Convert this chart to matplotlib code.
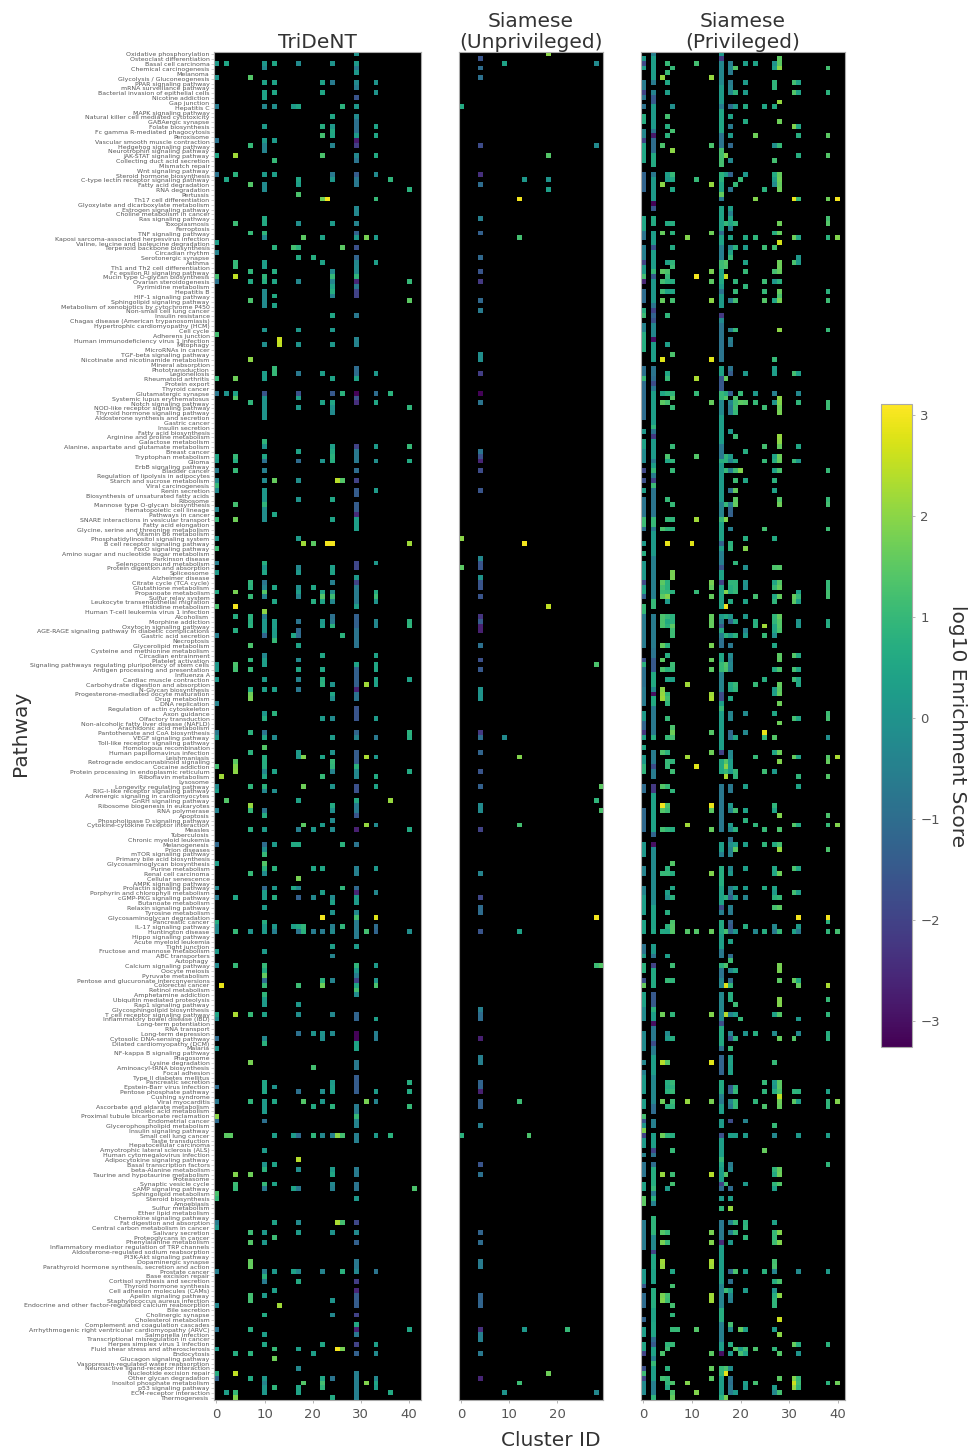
import numpy as np
import matplotlib
matplotlib.use('Agg')
import matplotlib.pyplot as plt

pathways = [
    'Oxidative phosphorylation', 'Osteoclast differentiation', 'Basal cell carcinoma', 'Chemical carcinogenesis',
    'Melanoma', 'Glycolysis / Gluconeogenesis', 'PPAR signaling pathway', 'mRNA surveillance pathway',
    'Bacterial invasion of epithelial cells', 'Nicotine addiction', 'Gap junction', 'Hepatitis C',
    'MAPK signaling pathway', 'Natural killer cell mediated cytotoxicity', 'GABAergic synapse', 'Folate biosynthesis',
    'Fc gamma R-mediated phagocytosis', 'Peroxisome', 'Vascular smooth muscle contraction', 'Hedgehog signaling pathway',
    'Neurotrophin signaling pathway', 'JAK-STAT signaling pathway', 'Collecting duct acid secretion', 'Mismatch repair',
    'Wnt signaling pathway', 'Steroid hormone biosynthesis', 'C-type lectin receptor signaling pathway', 'Fatty acid degradation',
    'RNA degradation', 'Pertussis', 'Th17 cell differentiation', 'Glyoxylate and dicarboxylate metabolism',
    'Estrogen signaling pathway', 'Choline metabolism in cancer', 'Ras signaling pathway', 'Toxoplasmosis',
    'Ferroptosis', 'TNF signaling pathway', 'Kaposi sarcoma-associated herpesvirus infection', 'Valine, leucine and isoleucine degradation',
    'Terpenoid backbone biosynthesis', 'Circadian rhythm', 'Serotonergic synapse', 'Asthma',
    'Th1 and Th2 cell differentiation', 'Fc epsilon RI signaling pathway', 'Mucin type O-glycan biosynthesis', 'Ovarian steroidogenesis',
    'Pyrimidine metabolism', 'Hepatitis B', 'HIF-1 signaling pathway', 'Sphingolipid signaling pathway',
    'Metabolism of xenobiotics by cytochrome P450', 'Non-small cell lung cancer', 'Insulin resistance', 'Chagas disease (American trypanosomiasis)',
    'Hypertrophic cardiomyopathy (HCM)', 'Cell cycle', 'Adherens junction', 'Human immunodeficiency virus 1 infection',
    'Mitophagy', 'MicroRNAs in cancer', 'TGF-beta signaling pathway', 'Nicotinate and nicotinamide metabolism',
    'Mineral absorption', 'Phototransduction', 'Legionellosis', 'Rheumatoid arthritis',
    'Protein export', 'Thyroid cancer', 'Glutamatergic synapse', 'Systemic lupus erythematosus',
    'Notch signaling pathway', 'NOD-like receptor signaling pathway', 'Thyroid hormone signaling pathway', 'Aldosterone synthesis and secretion',
    'Gastric cancer', 'Insulin secretion', 'Fatty acid biosynthesis', 'Arginine and proline metabolism',
    'Galactose metabolism', 'Alanine, aspartate and glutamate metabolism', 'Breast cancer', 'Tryptophan metabolism',
    'Glioma', 'ErbB signaling pathway', 'Bladder cancer', 'Regulation of lipolysis in adipocytes',
    'Starch and sucrose metabolism', 'Viral carcinogenesis', 'Renin secretion', 'Biosynthesis of unsaturated fatty acids',
    'Ribosome', 'Mannose type O-glycan biosynthesis', 'Hematopoietic cell lineage', 'Pathways in cancer',
    'SNARE interactions in vesicular transport', 'Fatty acid elongation', 'Glycine, serine and threonine metabolism', 'Vitamin B6 metabolism',
    'Phosphatidylinositol signaling system', 'B cell receptor signaling pathway', 'FoxO signaling pathway', 'Amino sugar and nucleotide sugar metabolism',
    'Parkinson disease', 'Selenocompound metabolism', 'Protein digestion and absorption', 'Spliceosome',
    'Alzheimer disease', 'Citrate cycle (TCA cycle)', 'Glutathione metabolism', 'Propanoate metabolism',
    'Sulfur relay system', 'Leukocyte transendothelial migration', 'Histidine metabolism', 'Human T-cell leukemia virus 1 infection',
    'Alcoholism', 'Morphine addiction', 'Oxytocin signaling pathway', 'AGE-RAGE signaling pathway in diabetic complications',
    'Gastric acid secretion', 'Necroptosis', 'Glycerolipid metabolism', 'Cysteine and methionine metabolism',
    'Circadian entrainment', 'Platelet activation', 'Signaling pathways regulating pluripotency of stem cells', 'Antigen processing and presentation',
    'Influenza A', 'Cardiac muscle contraction', 'Carbohydrate digestion and absorption', 'N-Glycan biosynthesis',
    'Progesterone-mediated oocyte maturation', 'Drug metabolism', 'DNA replication', 'Regulation of actin cytoskeleton',
    'Axon guidance', 'Olfactory transduction', 'Non-alcoholic fatty liver disease (NAFLD)', 'Arachidonic acid metabolism',
    'Pantothenate and CoA biosynthesis', 'VEGF signaling pathway', 'Toll-like receptor signaling pathway', 'Homologous recombination',
    'Human papillomavirus infection', 'Leishmaniasis', 'Retrograde endocannabinoid signaling', 'Cocaine addiction',
    'Protein processing in endoplasmic reticulum', 'Riboflavin metabolism', 'Lysosome', 'Longevity regulating pathway',
    'RIG-I-like receptor signaling pathway', 'Adrenergic signaling in cardiomyocytes', 'GnRH signaling pathway', 'Ribosome biogenesis in eukaryotes',
    'RNA polymerase', 'Apoptosis', 'Phospholipase D signaling pathway', 'Cytokine-cytokine receptor interaction',
    'Measles', 'Tuberculosis', 'Chronic myeloid leukemia', 'Melanogenesis',
    'Prion diseases', 'mTOR signaling pathway', 'Primary bile acid biosynthesis', 'Glycosaminoglycan biosynthesis',
    'Purine metabolism', 'Renal cell carcinoma', 'Cellular senescence', 'AMPK signaling pathway',
    'Prolactin signaling pathway', 'Porphyrin and chlorophyll metabolism', 'cGMP-PKG signaling pathway', 'Butanoate metabolism',
    'Relaxin signaling pathway', 'Tyrosine metabolism', 'Glycosaminoglycan degradation', 'Pancreatic cancer',
    'IL-17 signaling pathway', 'Huntington disease', 'Hippo signaling pathway', 'Acute myeloid leukemia',
    'Tight junction', 'Fructose and mannose metabolism', 'ABC transporters', 'Autophagy',
    'Calcium signaling pathway', 'Oocyte meiosis', 'Pyruvate metabolism', 'Pentose and glucuronate interconversions',
    'Colorectal cancer', 'Retinol metabolism', 'Amphetamine addiction', 'Ubiquitin mediated proteolysis',
    'Rap1 signaling pathway', 'Glycosphingolipid biosynthesis', 'T cell receptor signaling pathway', 'Inflammatory bowel disease (IBD)',
    'Long-term potentiation', 'RNA transport', 'Long-term depression', 'Cytosolic DNA-sensing pathway',
    'Dilated cardiomyopathy (DCM)', 'Malaria', 'NF-kappa B signaling pathway', 'Phagosome',
    'Lysine degradation', 'Aminoacyl-tRNA biosynthesis', 'Focal adhesion', 'Type II diabetes mellitus',
    'Pancreatic secretion', 'Epstein-Barr virus infection', 'Pentose phosphate pathway', 'Cushing syndrome',
    'Viral myocarditis', 'Ascorbate and aldarate metabolism', 'Linoleic acid metabolism', 'Proximal tubule bicarbonate reclamation',
    'Endometrial cancer', 'Glycerophospholipid metabolism', 'Insulin signaling pathway', 'Small cell lung cancer',
    'Taste transduction', 'Hepatocellular carcinoma', 'Amyotrophic lateral sclerosis (ALS)', 'Human cytomegalovirus infection',
    'Adipocytokine signaling pathway', 'Basal transcription factors', 'beta-Alanine metabolism', 'Taurine and hypotaurine metabolism',
    'Proteasome', 'Synaptic vesicle cycle', 'cAMP signaling pathway', 'Sphingolipid metabolism',
    'Steroid biosynthesis', 'Amoebiasis', 'Sulfur metabolism', 'Ether lipid metabolism',
    'Chemokine signaling pathway', 'Fat digestion and absorption', 'Central carbon metabolism in cancer', 'Salivary secretion',
    'Proteoglycans in cancer', 'Phenylalanine metabolism', 'Inflammatory mediator regulation of TRP channels', 'Aldosterone-regulated sodium reabsorption',
    'PI3K-Akt signaling pathway', 'Dopaminergic synapse', 'Parathyroid hormone synthesis, secretion and action', 'Prostate cancer',
    'Base excision repair', 'Cortisol synthesis and secretion', 'Thyroid hormone synthesis', 'Cell adhesion molecules (CAMs)',
    'Apelin signaling pathway', 'Staphylococcus aureus infection', 'Endocrine and other factor-regulated calcium reabsorption', 'Bile secretion',
    'Cholinergic synapse', 'Cholesterol metabolism', 'Complement and coagulation cascades', 'Arrhythmogenic right ventricular cardiomyopathy (ARVC)',
    'Salmonella infection', 'Transcriptional misregulation in cancer', 'Herpes simplex virus 1 infection', 'Fluid shear stress and atherosclerosis',
    'Endocytosis', 'Glucagon signaling pathway', 'Vasopressin-regulated water reabsorption', 'Neuroactive ligand-receptor interaction',
    'Nucleotide excision repair', 'Other glycan degradation', 'Inositol phosphate metabolism', 'p53 signaling pathway',
    'ECM-receptor interaction', 'Thermogenesis',
]

# scores, one dict per row: {row: {cluster: score}}
# TriDeNT, clusters 0-17 except cluster 10
tri_left = {
    2: {0: .2, 2: .5, 12: .5, 17: -.2}, 5: {0: 0, 7: 1.4}, 6: {12: .4}, 8: {12: .5},
    11: {0: -.6, 12: -.1, 16: .2, 17: .5}, 18: {0: -.8, 12: .2}, 19: {7: 1}, 21: {0: .5, 4: 2.2}, 22: {12: 1},
    25: {0: -.8, 4: .8, 12: .3}, 26: {2: .5, 17: .5}, 27: {7: 1.4, 17: .3}, 29: {17: 1.3},
    35: {4: 1.1, 17: -.1}, 37: {7: 1}, 39: {0: .3}, 40: {12: .8, 16: 1.2, 17: .8}, 41: {0: -.4}, 42: {17: .6},
    43: {4: 1},
    44: {4: 1}, 45: {7: .9, 12: .7}, 46: {0: 1.2, 4: 2.5}, 47: {0: -.8, 7: .6, 12: .5, 17: -.3},
    50: {12: .6}, 51: {7: 1.3}, 52: {12: .4}, 57: {17: .1}, 58: {0: 1.2}, 59: {13: 2.6}, 60: {13: 2.5, 17: 0},
    63: {7: 2}, 65: {12: 1}, 66: {12: 1, 17: -.7}, 67: {0: 1, 4: 1.7},
    70: {0: -.7, 2: 0, 4: .4, 17: -1.7}, 71: {4: 1.4, 17: .3}, 72: {7: .9}, 73: {17: .1},
    82: {17: .4}, 83: {0: .5, 4: 1}, 84: {0: .2, 4: .7, 17: -1}, 86: {0: -.5, 4: 1},
    88: {0: -.2, 12: 1.6, 17: -.1},
    89: {0: 1}, 90: {0: -.2}, 92: {17: 0}, 93: {4: 1.2}, 94: {0: -.3}, 95: {12: .5},
    96: {0: 1, 4: 1.7}, 100: {0: .1, 17: .2}, 102: {0: 1.1}, 105: {0: -.5}, 106: {17: -.3}, 107: {0: .2, 17: .1},
    109: {7: .9}, 110: {7: .8, 12: .5, 17: -.1}, 111: {0: .6, 4: 1.8, 17: .3}, 112: {7: 1, 17: -.4},
    113: {12: .5}, 114: {0: 1.3, 4: 3}, 116: {4: .7, 7: .8}, 117: {7: .7, 12: .3, 17: -.8}, 118: {7: .8, 12: .3},
    119: {4: .7, 12: .2, 17: -1.1}, 120: {0: -.5, 12: .2, 16: .5, 17: -1}, 121: {12: 1}, 122: {7: 1.3, 17: .4},
    125: {7: .9, 17: -.2}, 126: {0: .1, 4: 1.3}, 127: {0: .2, 4: 1.2, 7: 1, 17: .5}, 129: {0: .1, 17: -.4},
    131: {7: .6, 12: .3, 17: -.7}, 132: {7: 1.7}, 133: {7: 1.8}, 134: {0: -.4},
    136: {12: .8}, 140: {0: -.7, 7: .8}, 141: {0: .2, 12: -.2}, 144: {7: .8, 17: .2}, 145: {17: .1},
    146: {4: 1.5}, 147: {0: 1.2, 4: 1.9}, 148: {4: 2, 12: .4}, 149: {1: 2.2}, 151: {0: -.2, 7: .9},
    152: {0: .3, 12: -.1}, 154: {2: 1.4, 17: .4}, 155: {7: 2.1}, 156: {0: -.4, 7: 1},
    160: {7: .7, 17: -.5}, 163: {0: -1.1, 12: .2, 16: .6, 17: .6}, 167: {0: .3}, 168: {12: .8}, 169: {7: 1},
    170: {17: 1.8}, 172: {0: -.3, 12: .1, 16: .5, 17: -.3}, 174: {0: -.6, 4: .5, 12: .7, 17: -1.3},
    179: {0: .7}, 180: {0: -.2, 12: .1, 16: .3, 17: .6}, 181: {0: -.2, 4: 1, 7: 0, 12: -.5, 17: -.8},
    185: {0: .2}, 188: {0: -.2, 4: 1}, 192: {1: 2.9, 17: 1.1}, 196: {17: .1}, 198: {0: .5, 4: 2.3, 7: 1, 17: -.1},
    199: {0: -.2}, 202: {17: -.9}, 203: {0: -1}, 205: {0: 0}, 208: {7: 1.8}, 213: {0: -1, 12: 0}, 214: {17: -.9},
    216: {0: -.7, 7: .9, 12: .5}, 219: {0: 2}, 220: {0: -1}, 223: {2: 1.5, 3: 1.5, 12: .3, 16: .2, 17: -1},
    228: {17: 2.4}, 229: {12: .4}, 230: {17: -.1}, 231: {4: 1.9, 7: 1.7}, 233: {4: 1.1, 12: .4},
    234: {4: 1, 16: .4, 17: -.7}, 235: {0: 1.3}, 236: {0: 1}, 241: {0: -.6, 12: .4, 17: -.2}, 242: {0: .1},
    243: {7: 1.1, 17: .2}, 244: {12: 1.1}, 245: {7: 1.4}, 249: {7: 1.6}, 250: {7: 1.6},
    251: {0: -.5, 12: .1, 16: .4, 17: -.3}, 253: {17: .6}, 255: {12: .3}, 256: {7: 1.2}, 257: {7: 1.2},
    258: {0: -.3, 13: 2.2}, 263: {0: -.8, 7: .7}, 267: {0: .2, 12: 1, 17: .3}, 268: {4: .7, 7: .8}, 269: {12: 1.7},
    271: {17: -.3}, 272: {0: .7, 4: 2.5}, 273: {0: -1.2, 7: .6}, 275: {12: .9, 17: .5}, 276: {2: .3, 4: 1, 17: .4},
    277: {4: 1.9},
}
tri_col10 = [(2, 2, .1), (3, 3, -.3), (6, 6, .4), (8, 9, .4), (11, 11, -.3), (15, 15, .2), (18, 18, .2),
             (19, 20, -.4), (25, 25, .2), (27, 28, -.2), (34, 35, .6), (37, 37, .9), (38, 38, -.3), (43, 44, .3),
             (46, 46, .9), (47, 47, .7), (49, 52, -.2), (57, 57, 0), (60, 60, -.1), (66, 67, .3), (70, 70, -1.6),
             (71, 75, 0), (80, 80, .9), (81, 81, 0), (83, 83, .5), (84, 84, -.9), (86, 86, -.5), (88, 88, -.2),
             (90, 92, .1), (93, 93, .9), (94, 96, -.1), (105, 105, .7), (106, 106, 0), (107, 107, .5), (109, 109, -.8),
             (110, 110, -.4), (111, 111, 1.4), (112, 112, -.4), (115, 115, 2), (116, 116, -.6), (117, 119, .1),
             (120, 120, -1.2), (124, 124, -.3), (125, 126, .3), (129, 129, .2), (131, 131, .3), (136, 136, .1),
             (137, 137, .7), (140, 140, -.8), (141, 141, .5), (143, 143, 1.4), (145, 147, .7), (148, 148, -.3),
             (149, 149, .5), (151, 151, .8), (152, 152, -.3), (156, 156, -.8), (157, 157, .7), (160, 160, .2),
             (163, 163, -1), (164, 164, -.1), (165, 165, 1), (167, 167, 1.4), (168, 168, .8), (169, 169, -.2),
             (172, 172, -1.1), (173, 174, .3), (176, 176, .2), (179, 179, .7), (180, 181, .2), (185, 185, .2),
             (188, 188, 1), (189, 189, .6), (190, 190, 1.6), (191, 191, -1), (192, 192, 1), (194, 194, .9),
             (195, 196, .2), (198, 198, .4), (203, 203, -.3), (204, 204, .8), (212, 214, .5), (216, 218, .2),
             (220, 220, -.9), (226, 226, .2), (229, 229, 0), (230, 230, .8), (233, 233, 1), (234, 234, -.7),
             (243, 243, .1), (245, 245, .1), (251, 251, -.5), (252, 252, .8), (253, 253, -.6), (256, 256, .2),
             (260, 260, .6), (264, 264, .3), (266, 266, .5), (273, 276, .1), (274, 274, -.4)]
# TriDeNT, clusters 18-41 except cluster 29
tri_right = {
    2: {24: 0}, 6: {22: .4, 24: -.6, 33: 0}, 8: {22: .5, 33: 0}, 11: {26: .8}, 13: {24: .5}, 15: {22: .7, 24: .1, 33: .4},
    16: {24: .6}, 17: {22: 1.2, 24: .5, 33: .5}, 19: {24: -.4}, 21: {22: 1.3, 33: .6}, 25: {24: -.7, 33: -.2},
    26: {24: .1, 36: .9}, 28: {40: .8}, 30: {22: 1.7, 23: 3, 33: 1}, 35: {24: .2}, 38: {18: 1.5, 22: .4, 31: 1.8, 33: .2},
    40: {26: 1.5}, 42: {20: .7}, 43: {22: .4, 33: .3}, 45: {24: -.2}, 46: {24: 1}, 47: {24: -.4, 40: 1}, 48: {24: .4},
    49: {24: .7}, 50: {24: -.4}, 51: {40: 1.5}, 54: {24: .5}, 57: {24: .1}, 60: {24: .1}, 66: {22: .3, 33: .1}, 67: {24: .4},
    70: {24: -1.5, 26: .8, 33: -1, 36: .8}, 72: {22: .4, 24: .5, 33: .5}, 73: {24: 0, 40: .9}, 74: {24: -.2},
    81: {24: .3, 33: .2, 40: 1}, 82: {24: .6}, 83: {24: .8}, 84: {22: 0, 24: .7, 33: -.1, 40: .6},
    88: {25: 2.4, 26: 1.4}, 90: {33: .2}, 92: {24: .5}, 96: {24: .4},
    101: {18: 2.2, 20: 1.5, 23: 3, 24: 3, 40: 2.2}, 105: {33: .1}, 106: {24: .3}, 107: {24: .4}, 109: {24: -.5},
    110: {20: .5}, 111: {22: .5, 24: -.1, 33: .6}, 112: {22: 1.4, 24: 1.1, 33: 1.1}, 113: {20: .7, 22: .4, 24: -.3, 33: 0},
    116: {24: -.9}, 117: {22: .1, 24: -.7, 33: -.3, 40: .8}, 118: {22: .3, 24: .8, 33: -.3, 40: .9}, 120: {26: .8},
    124: {22: .5, 33: .4}, 126: {33: .5}, 127: {22: .5, 33: .5}, 129: {22: .7, 33: .4, 40: .4}, 130: {22: .8, 24: 0, 31: 2.2, 33: .4},
    132: {24: .5}, 133: {24: -.1}, 137: {22: .2, 24: -.2, 33: .2}, 140: {40: .8}, 141: {24: .2, 33: -.7, 40: .7},
    144: {24: 0}, 145: {18: 1.9, 22: .4, 31: 2.3, 33: .1}, 146: {24: 1}, 147: {24: .9}, 148: {24: -.4, 40: .6},
    149: {22: 1, 33: .6}, 151: {18: 1.7, 24: 0, 33: .4}, 154: {36: 2.1}, 155: {24: .6}, 156: {24: -.1}, 158: {24: -.2},
    159: {18: 1.5, 22: .2, 31: 2.1, 33: -.2}, 160: {20: .1, 24: -.2, 40: .6}, 163: {26: .8}, 168: {20: .5, 22: .5, 33: .1},
    172: {26: .9}, 173: {22: .3, 33: -.3}, 174: {20: -.3, 24: -.2}, 175: {24: .4}, 177: {24: 0},
    178: {22: 3, 33: 2.8}, 180: {18: .9, 24: -.5, 26: .9, 33: -1}, 181: {18: .8, 20: -.6, 22: -.6, 24: -.2, 31: 1.2, 33: -1.2, 40: -.1},
    184: {24: .3}, 186: {24: -.4}, 188: {33: .2}, 191: {22: .8, 24: -.4, 33: 0}, 192: {22: 1.7, 33: 1.3},
    198: {24: -.3}, 199: {33: .3}, 202: {20: 0, 22: 0, 24: -.2, 33: -.5}, 203: {22: -.1, 33: -.6}, 209: {20: 1.2},
    212: {24: .2, 40: .7}, 213: {24: .3}, 214: {22: -.1, 24: .3, 33: .2, 40: .6}, 216: {18: 1.4, 22: .1, 31: 1.8, 33: -.4},
    217: {20: .6, 24: .8, 40: 1}, 223: {20: .9, 22: -.3, 24: -.5, 25: 2, 26: 1.2, 33: .2, 36: .8},
    230: {24: .2}, 231: {24: .5}, 233: {24: -.3}, 234: {24: -.5, 41: 1.3}, 241: {25: 2.3, 26: 1.2}, 243: {24: 0},
    251: {22: -.4, 26: .8, 33: -.8}, 257: {24: 0}, 260: {24: -.3}, 263: {40: .5}, 266: {22: .5, 33: .3},
    267: {25: 3, 26: 1.8}, 268: {20: .3, 33: -.2}, 273: {22: .5, 24: -.8, 33: -.3}, 274: {18: 1.4, 22: 1.2, 31: 1.9, 33: .5},
    275: {22: .9, 33: .3}, 276: {36: .6}, 277: {24: .6},
}
tri_col29 = [(0, 0, 0), (2, 2, .2), (3, 3, -.7), (4, 4, .1), (6, 6, -.2), (7, 7, -.6), (9, 9, -1.6), (11, 11, .1),
             (13, 13, -.2), (14, 16, -.9), (17, 17, .2), (18, 18, -2.8), (19, 19, -2.1), (21, 21, -.3), (22, 22, -.8),
             (25, 25, -1.4), (26, 27, -.7), (32, 33, -.3), (35, 35, -.4), (37, 37, -1.3), (38, 38, .1), (40, 40, -1.7),
             (42, 42, -1.2), (43, 43, -.3), (44, 45, -.2), (46, 46, .9), (47, 47, -2.6), (48, 48, -.7), (49, 50, -2),
             (54, 54, -.7), (59, 60, -.4), (65, 66, -1), (67, 67, .4), (70, 70, -3.2), (71, 71, -1.6), (72, 72, -2.4),
             (81, 81, -2), (82, 84, -.7), (86, 86, -1), (88, 88, -2), (90, 91, -1.4), (93, 94, -1.4), (95, 95, -2.5),
             (96, 98, .3), (105, 106, -1.9), (108, 108, .1), (109, 109, -2), (110, 113, -.6), (114, 114, .3),
             (116, 118, -1.3), (119, 122, -.8), (126, 126, .4), (127, 130, -1.3), (131, 131, -2.7), (132, 133, -.8),
             (135, 137, -1.6), (140, 140, -1.2), (141, 141, -.4), (144, 146, -1.4), (147, 147, .8), (148, 149, -.3),
             (151, 152, -1.7), (154, 154, .6), (155, 156, -.6), (157, 157, -1.6), (160, 160, -2.7), (163, 163, -.8),
             (168, 169, -.5), (172, 172, -1.1), (173, 173, -2.6), (174, 175, .2), (177, 177, -.3), (178, 178, 1.2),
             (179, 182, -.6), (184, 184, .2), (188, 188, .9), (189, 189, .1), (190, 190, -.6), (191, 191, -2),
             (192, 192, .5), (193, 193, 1.2), (194, 194, -.2), (198, 199, -1.2), (202, 203, -3.2), (204, 205, .4),
             (208, 209, -.7), (211, 214, -1.4), (217, 218, -.6), (219, 219, 1), (220, 221, -.4), (223, 224, -.5),
             (230, 231, -.6), (233, 234, -.8), (236, 236, .1), (241, 241, -1.9), (243, 243, -.2), (245, 245, -1.3),
             (249, 250, -.7), (251, 251, -.3), (253, 253, -2.1), (255, 255, -2.6), (256, 258, -1.4), (260, 260, -2),
             (262, 262, .6), (263, 263, -2.7), (264, 264, -.7), (266, 266, -2), (268, 268, -1.3), (272, 277, -.5)]

# Siamese (Unprivileged)
mid_cells = {
    0: {18: 2}, 2: {9: .4, 28: -.2}, 11: {0: .6}, 19: {28: -.2}, 21: {18: 1.4}, 26: {13: .1, 18: 0}, 28: {18: .3},
    30: {12: 3}, 38: {12: 1.2}, 100: {0: 2}, 101: {13: 3}, 106: {0: 1.5}, 114: {18: 2.5}, 126: {28: 1.3},
    141: {9: -.2}, 145: {12: 1.9}, 151: {29: 1.5}, 154: {28: .9}, 156: {29: 1.3}, 159: {12: 1.2}, 178: {28: 3},
    181: {12: .4}, 188: {28: 1.1, 29: 1.4}, 216: {12: 1.1}, 223: {0: .8, 14: 1.3}, 263: {13: .1, 22: 1},
    272: {18: 1.7}, 274: {12: 1.1}, 276: {9: 0, 28: -.3},
}
mid_col4 = [(1, 1, -1.6), (3, 3, -1), (5, 5, -.9), (19, 19, -1.8), (25, 25, -2.4), (27, 27, -1), (34, 34, -.5),
            (37, 37, -1.3), (42, 42, -1.1), (45, 45, -1.6), (47, 47, -2.2), (51, 51, -1.1), (53, 53, -.6),
            (62, 63, -.1), (66, 66, -2.1), (70, 70, -3.2), (72, 72, -.8), (82, 82, -.8), (83, 83, -1.7),
            (84, 84, -2.6), (86, 86, -1.8), (90, 90, -1.6), (104, 104, -.3), (105, 106, -1.6), (108, 108, 0),
            (109, 110, -1.6), (112, 112, -1.6), (116, 116, -2.3), (117, 117, -1.4), (118, 119, -2.7), (122, 122, -.9),
            (125, 125, -1.7), (127, 127, -1.5), (131, 133, 0), (140, 140, -2.2), (141, 141, -1), (144, 144, -1.2),
            (148, 148, -1.6), (151, 151, -1.3), (155, 156, -.2), (160, 160, -2), (169, 169, -.4), (174, 174, -1.9),
            (176, 177, -1), (181, 181, -1.6), (197, 197, -.5), (198, 199, -1), (203, 203, -2.7), (207, 208, -.5),
            (212, 213, -1.2), (214, 214, -2.7), (216, 217, -1.3), (221, 221, -.5), (229, 229, -1.6), (231, 231, -.9),
            (243, 243, -1.2), (245, 245, -1), (249, 250, -.6), (256, 258, -1.2), (263, 263, -2.4), (264, 265, -.5),
            (268, 268, -.7), (273, 273, -2.6)]

# Siamese (Privileged), clusters other than 0, 2 and 16
sia_cells = {
    1: {28: 1.5}, 2: {5: 1, 11: 1.2, 18: -.5, 21: .3, 23: .4, 27: 0, 28: 1.5}, 3: {6: 1, 18: -.3, 19: 1.4, 27: .3, 28: 2, 38: 1.2},
    4: {5: 1, 18: -.6}, 5: {4: 2.1, 14: 2.1}, 6: {5: .5, 18: -.6, 21: .2, 27: .9, 31: 1.2, 32: .4}, 7: {18: -.4, 27: .9},
    8: {5: .3, 18: -.3, 19: .9, 21: .2, 31: 1.4, 32: .4, 38: .8}, 10: {28: 2.1},
    11: {6: -.1, 18: -1, 19: .2, 21: .6, 25: .5, 27: .6}, 13: {5: 1.2, 18: .4}, 14: {21: .6, 28: 1.7},
    15: {5: .7, 18: -.6, 31: 1.9, 32: .5}, 16: {6: 1.2}, 17: {5: .8, 18: .2, 23: 1.7, 32: .7, 38: 1.5},
    19: {4: 1.3, 14: 1.3, 18: -1.1, 27: -.1, 28: 1}, 20: {6: 2}, 21: {17: 1.9, 32: .7, 38: 1.4}, 22: {18: -.3, 27: 1.2},
    25: {5: .3, 6: 1, 17: .3, 18: -1.2, 21: .1, 27: .6, 28: 1.6}, 26: {5: .2, 6: .5, 11: 1, 20: 1, 27: .2, 28: 1.7},
    27: {4: 2, 14: 2.1, 19: 1, 27: -.2, 28: 1.6}, 28: {6: .5, 18: -.8, 25: .8, 28: 1.7},
    30: {23: 1.9, 31: 2.9, 32: 1, 38: 1.7, 40: 3}, 32: {18: .3}, 33: {18: -.5}, 34: {18: .5, 38: 1.2}, 35: {5: .6, 6: .7, 17: 1, 18: .5, 19: .9, 28: 1.7, 38: 1.4},
    36: {18: -.5}, 37: {4: 1.6, 6: .8, 14: 1.7, 27: .7, 28: 1.6}, 38: {9: 1.9, 18: .4, 21: .6, 23: .9, 31: 1.7, 32: .5, 38: .8, 40: 1.9},
    39: {28: 2.7}, 40: {6: .6, 18: -.4, 19: .8, 21: .2, 25: 1.1, 27: 1.2}, 41: {18: .4}, 42: {18: 1, 32: .1},
    43: {5: .4, 6: .9, 17: 1.4, 21: .4, 28: 1.7, 31: 1.3, 32: .2}, 44: {6: 1.1, 17: 1.3, 28: 1.7}, 45: {4: 1.5, 5: 1.3, 14: 1.8, 21: 1, 27: 1.2, 28: 1.6},
    46: {5: 1, 11: 3, 17: 2.6}, 47: {4: 1.2, 5: .8, 6: .7, 14: 1.5, 19: .9, 25: 1.1, 27: .1, 28: .8}, 48: {21: .9},
    49: {4: 1.1, 5: .4, 6: .5, 19: 1, 25: 1, 28: 1.6, 38: .8}, 50: {28: 1.3}, 51: {4: 1.6, 6: 1.2, 14: 2, 18: -.6, 19: 1.2, 25: 1.4, 27: .5, 28: 1.8, 38: 1.1},
    54: {5: .9}, 57: {18: -.5, 19: 1, 28: 2, 38: 1}, 59: {18: -.5}, 60: {5: .3, 18: -.7}, 62: {6: 1.3}, 63: {4: 2.8, 14: 2.8, 27: 1},
    65: {18: -.8, 27: .3}, 66: {5: .5, 18: -1.4, 21: .1, 27: .3, 31: 1.2, 32: .3}, 67: {5: 1, 11: 2.3, 17: 1.6},
    70: {4: .5, 5: .8, 6: .9, 11: 1, 17: .7, 18: -1.3, 20: 1, 23: .1, 27: -.5, 32: -.3}, 71: {6: 1.4, 17: 1.4, 19: 1.3, 28: 2},
    72: {4: 1.5, 5: 1.2, 14: 1.6, 18: -.3, 19: 1.1, 20: 1.5, 21: 1.4, 23: 1, 27: 0, 28: 1.9, 32: .9, 38: 1.1},
    73: {6: 1, 18: -.6, 19: 1.2, 25: 1.1, 28: 1.7, 38: 1.1}, 74: {18: -.6, 19: 1, 28: 1.8},
    78: {18: .1}, 79: {19: 1.1, 28: 2.1}, 80: {28: 2}, 81: {6: 1, 25: 1.2, 32: .5, 28: 1.6}, 82: {21: .7},
    83: {5: 1.3, 11: 1.4, 17: .9, 18: .2, 27: .4, 28: 1.7}, 84: {5: .5, 6: .9, 17: .8, 18: -.4, 19: .6, 25: 1, 27: .7, 28: 1.6, 31: 1, 32: .1},
    86: {6: 1, 17: 1, 18: -.5, 19: 1.1, 20: 1.9, 27: .4, 28: 1.3, 38: 1}, 88: {19: 1.1, 21: .5, 27: .8},
    90: {18: -.9, 19: 1.6, 27: .4}, 92: {5: 1, 19: 1.5, 28: 1.4, 38: 1}, 93: {6: 1, 17: 1, 19: 1.6, 18: -.5, 28: 1.7, 38: 1.2},
    94: {18: -1.2}, 95: {18: -1.3}, 96: {5: 1, 6: .9, 11: 2.2, 17: 1.9}, 98: {4: 1.3, 5: .9, 6: .8, 18: -.5, 25: 1.2, 38: 1.1},
    100: {21: .7, 27: .6}, 101: {5: 2.9, 10: 2.8, 18: .8}, 102: {18: .9, 21: 1.9}, 105: {19: .9}, 106: {21: -.1, 27: 1.3, 28: 1.4},
    107: {6: 1.8}, 108: {6: 1.8}, 109: {4: 1.5, 5: .8, 14: 1.8, 18: .9, 19: .9, 21: 0, 27: .5, 28: 1.4, 38: 1},
    110: {4: 1.2, 5: .8, 14: 1.6, 18: .7, 19: .9, 21: -.1, 27: 1, 28: 1.6, 38: 1}, 111: {4: 1.1, 5: 1, 6: .8, 11: 1, 17: 1.9, 18: .7, 19: 1, 32: .3, 38: 1.2},
    112: {4: 1.5, 5: 1.9, 14: 1.6, 23: 1.2, 27: .5, 28: 1.6, 31: 1.6, 32: 1, 38: 1.2}, 113: {5: .2, 18: .6, 21: .4, 27: .9, 31: 1.5, 32: .3},
    114: {17: 3}, 116: {4: 1.3, 5: 1, 6: .8, 14: 1.6, 17: .6, 18: .1, 21: .1, 27: .9, 28: 1.6},
    117: {4: 1.3, 5: .6, 6: .8, 14: 1.6, 18: -1.2, 19: .6, 23: .7, 27: .9, 28: 1.4, 32: 0, 38: .6},
    118: {4: 1.3, 5: .8, 6: 1.5, 14: 1.6, 23: .8, 25: 2.2, 27: .5, 28: 1.4, 32: .1, 38: .7}, 119: {6: 1.1, 21: -.5, 27: .5, 28: 1.3},
    120: {6: 1.1, 17: .8, 18: .2, 19: .8, 21: .2, 25: 1, 27: -.1}, 122: {4: 1.6, 5: .8, 14: 1.8, 18: -.7, 27: .5},
    124: {5: .7, 18: -.2, 28: 1.5, 31: 1.4, 32: .6}, 125: {4: 1.5, 14: 1.6, 18: -.5, 28: 1.5}, 126: {6: 1.1, 17: 1.4, 18: -.3},
    127: {4: 1.3, 5: .8, 6: 1, 14: 1.5, 17: 1.3, 18: -.4, 27: .6, 28: 1.3, 31: 1.2, 32: .5},
    129: {5: .5, 6: .4, 25: .7, 31: 1.1, 32: .5}, 130: {9: 2.2, 18: .6, 19: 1, 23: 1, 28: 1.6, 32: .5}, 131: {4: 2, 18: .5, 19: .9, 27: .2, 28: 1.5},
    132: {4: 2.1, 14: 2.2, 5: 1, 27: .3, 28: 1.6}, 133: {4: 2.2, 5: 1.2, 14: 2.3, 18: .5}, 134: {5: .9, 28: 1.7},
    136: {18: -.4, 21: -.2, 27: .5, 38: 1.1}, 137: {5: 1, 18: -.3, 31: 1.2, 32: .5, 38: 1.2}, 138: {28: 1.7},
    139: {6: 1.3}, 140: {6: 1.7, 14: 1.4, 18: -1.1, 21: -.3, 25: 2.9}, 141: {5: 1, 6: 1.2, 18: -.9, 19: .5, 25: 1, 27: 1.4, 38: -.1},
    144: {4: 1.3, 5: .8, 14: 1.7, 18: -.3, 27: .5, 28: 1.7}, 145: {9: 2.2, 18: -.2, 23: 1, 31: 1.6, 32: .4, 38: 1.4, 40: 2.3},
    146: {5: 1, 6: .9, 17: 1.4, 18: .3, 28: 1.9, 38: 1.6}, 147: {5: 1, 11: 2.8, 17: 2, 18: .3}, 148: {6: 1.1, 17: 1, 18: .2, 19: 1, 25: 1.1, 27: .2},
    149: {17: 2.3, 19: .9, 32: .9, 38: 1.4}, 151: {4: 1.4, 5: 1, 18: -.7, 21: .3, 32: .4}, 152: {6: .9, 18: -.7},
    155: {4: 3, 5: 1.3, 14: 2.9, 18: .1, 27: .9}, 156: {4: 1.4, 5: 1.1, 14: 1.5, 18: -.4, 19: 1.2, 21: .4, 27: .4}, 157: {28: 1.9, 38: 1.3},
    158: {21: .8}, 159: {9: 2.2, 18: .2, 23: .9, 31: 1.4, 32: .6, 38: 1, 40: 1.9}, 160: {4: 1.2, 5: .9, 6: .7, 14: 1.6, 18: -.3, 19: .8, 25: 1, 28: 1.3},
    162: {18: -.9}, 163: {18: -.1, 19: .3, 21: .3, 25: .9, 27: .6, 28: 1.2}, 164: {18: -.5, 19: 1.5, 28: 2.1, 38: 1.3}, 165: {18: -.4},
    167: {6: 1.4}, 168: {5: .8, 18: -.3, 21: .3, 27: .5, 31: 1.3, 32: .5}, 169: {4: 1, 5: 1, 6: .7, 14: 1.9, 18: .1, 27: .5, 28: 1.7},
    172: {6: .5, 18: -.6, 19: .3, 21: .2, 25: .6, 27: .4}, 173: {5: .3, 18: -.7, 27: .2, 31: 1.2, 32: .3},
    174: {5: -.1, 6: .8, 17: .8, 18: -1.4, 19: .2, 21: -.4, 27: .8, 28: 1},
    176: {18: -.5, 27: 1.2, 28: 1.5}, 177: {5: .7, 18: -.6}, 178: {32: 3, 38: 3}, 179: {6: 1.3, 18: -1.2, 38: .8},
    180: {5: .8, 6: 1.4, 18: -1.5, 21: .7, 27: -.3, 32: .2},
    181: {4: .6, 5: .5, 6: 1.4, 9: 1.4, 11: 1.4, 14: 1.6, 17: 1.2, 18: -1, 19: .1, 23: -.3, 25: .7, 27: -.6, 28: 1, 31: .4, 32: -.7, 38: .9, 40: 1.2},
    183: {18: .4}, 186: {5: .3, 18: -1}, 187: {18: 1.1}, 188: {6: 1.1, 17: 1.3, 28: 1.8}, 189: {18: -.3, 19: .5, 28: 1.8},
    191: {5: 1, 6: .9, 18: -1, 28: 1.5, 31: 1.6, 32: .6}, 192: {17: 2.8, 18: .9, 32: 1.6, 38: 2.3}, 194: {18: .7}, 195: {18: .7, 28: 1.9, 38: 1},
    196: {19: 1.1, 28: 1.9}, 198: {4: 1.7, 6: .9, 14: 1.9, 17: 2.4, 18: -.4, 19: .3, 27: .4, 28: 1.4, 38: .9}, 199: {20: 1, 32: .1},
    202: {5: -.2, 18: -.3, 21: 0, 23: .7, 27: -.2, 32: -.3, 38: .7}, 203: {5: .2, 6: .7, 18: -1.6, 19: .8, 28: 1.6, 31: 1.4, 38: .8}, 205: {18: 1},
    207: {18: .3}, 208: {4: 2.4, 5: 1.4, 14: 2.8, 18: .4, 27: 1}, 209: {18: .3}, 210: {18: .4},
    212: {5: .7, 6: 1, 25: 1, 27: .2, 28: 1.5}, 213: {5: .6, 6: .8, 18: -1.5, 19: .8, 27: 0, 28: 1.5}, 214: {5: .8, 6: 1, 18: -1.2, 19: 1, 25: .9, 27: .7, 28: 1.3, 31: .9, 32: .8, 38: .4},
    215: {28: 2.5}, 216: {4: 1.7, 6: 1.1, 9: 2.1, 14: 1.8, 18: -.3, 19: 1, 23: .9, 28: 1.7, 31: 1.5, 32: .3, 38: .9, 40: 1.9},
    217: {5: .8, 6: .9, 18: -.7, 19: 1, 25: 1.3, 28: 1.6, 38: .9}, 220: {18: -1.8, 21: -.4}, 221: {27: 1},
    223: {4: 1.7, 5: .9, 6: .7, 18: .3, 19: .3, 21: .2, 27: -.3, 32: .1, 38: .3}, 226: {6: 1, 25: 1.6},
    229: {18: -.6, 38: .9}, 230: {18: -.3, 27: .9, 28: 1.6}, 231: {4: 2.1, 6: 1.1, 14: 2.4, 17: 1.4, 27: .6, 28: 1.7},
    233: {6: 1.2, 17: 1.1, 21: .1, 27: .9, 28: 1.4}, 234: {5: .2, 18: -1, 27: .3}, 236: {18: .3}, 238: {18: 2.1},
    241: {18: -.4, 19: 1, 21: .8, 27: .4}, 242: {21: .9}, 243: {4: 1.4, 5: 1, 14: 1.8, 18: -.5, 19: 1, 27: 1, 28: 1.9}, 244: {21: .9, 27: 1},
    245: {4: 1.8, 5: 1, 14: 1.9, 18: .1, 27: 1.1, 28: 1.9}, 249: {4: 2.2, 14: 2.3, 27: 1.2}, 250: {4: 2.1, 14: 2.2, 27: 1.3},
    251: {6: .5, 18: -1.1, 19: 1.3, 21: .3, 25: .8, 27: -.4, 32: -.2, 38: .2}, 253: {18: -.9, 27: .7, 28: 1.3}, 254: {6: 1.2},
    255: {17: 1.1, 18: .4, 21: .2, 27: 0}, 256: {4: 1.8, 5: 1.2, 14: 2.2, 18: -.3, 27: .7, 28: 2}, 257: {4: 1.9, 5: 1.1, 14: 2.2, 18: -.5, 27: .9}, 258: {6: 1.2, 27: .9},
    260: {6: .9}, 261: {28: 2.6}, 262: {18: 1.2}, 263: {6: 1, 7: 1, 11: 1.4, 18: -.2, 20: 1.6, 21: .3, 27: .2}, 264: {28: 2},
    266: {5: .9, 6: 1, 18: .7, 31: 1.6, 32: .7, 38: .8}, 267: {5: 1.1, 19: 1.4, 20: .3, 21: 1.1, 23: 1.3, 27: .9},
    268: {4: 1.3, 14: 1.5, 18: .2, 20: 1.2, 21: .5, 28: 1.4, 32: 0}, 271: {5: .8, 14: 1.6, 17: 1.3, 18: -.1}, 272: {17: 2.9},
    273: {4: 1.2, 5: 1, 14: 1.5, 18: -.8, 28: 1.5, 31: 1.9, 32: 1}, 274: {5: .9, 6: 1.3, 9: 1.9, 18: -.9, 21: .3, 23: 1.2, 31: 2.6, 32: 1.1, 38: .8, 40: 1.7},
    275: {5: .6, 18: -.7, 21: .1, 27: .2, 31: 2.1, 32: .9}, 276: {6: 1.3, 11: 1.9, 18: -.6, 19: .2, 27: -.3, 28: 1.2},
    277: {6: 1.6, 17: 1.8},
}
sia_col0 = [(1, 1, .2), (2, 2, -1.9), (3, 3, .3), (6, 7, -.6), (8, 8, -2), (9, 9, -.7), (11, 11, -.8), (13, 14, .7),
            (16, 17, -.3), (18, 18, -2), (19, 22, .5), (25, 28, -1.2), (34, 36, .5), (37, 38, -.8), (40, 42, -.5),
            (43, 43, -2), (44, 45, .2), (46, 46, 1.2), (47, 47, -2.6), (49, 51, -1), (53, 53, .7), (54, 54, 1.1),
            (56, 57, -.4), (58, 61, .7), (65, 66, -.9), (67, 67, 1), (68, 75, -1), (78, 78, .1), (80, 81, .4),
            (82, 84, -.2), (86, 86, -1.9), (88, 88, -1.7), (90, 90, .3), (92, 95, -.8), (96, 97, 1.1), (98, 98, -.9),
            (101, 101, .2), (103, 103, .7), (105, 108, .1), (109, 109, -1.9), (110, 110, .3), (111, 111, .6), (112, 112, -1.3),
            (114, 115, 1), (116, 122, -.6), (125, 125, -1.7), (126, 126, .8), (127, 130, -.9), (131, 134, -.6),
            (136, 137, .2), (138, 139, -1.2), (140, 140, -2.3), (141, 141, .4), (143, 143, .5), (145, 146, .2),
            (147, 148, .9), (151, 152, -1), (156, 160, -1.1), (163, 165, .1), (168, 169, -.4), (172, 173, -.4),
            (174, 177, .3), (179, 181, .4), (184, 185, -.8), (186, 186, .3), (188, 189, .8), (191, 191, -1.7), (192, 192, 1.6),
            (194, 196, .4), (197, 199, -.2), (202, 205, -.2), (208, 208, -.3), (210, 210, -.5), (211, 214, .2), (216, 217, .3),
            (219, 219, 1.2), (220, 220, -1.6), (221, 221, .1), (222, 222, 1.9), (223, 223, -2), (224, 225, .2), (227, 227, -.4),
            (229, 231, -.8), (233, 234, .4), (236, 237, 1.5), (241, 246, -.6), (251, 253, .1), (254, 254, -1.5),
            (256, 258, -1), (261, 261, -1.2), (263, 264, .3), (266, 267, .5), (268, 268, -2), (271, 271, -1.7), (272, 272, 1.1),
            (273, 273, -1.9), (274, 276, -.2)]
sia_col2 = [(0, 0, -.5), (1, 5, .3), (6, 6, -.6), (8, 8, -.4), (9, 10, -1.5), (11, 15, .2), (16, 16, -.8), (17, 17, -2.8),
            (18, 20, -1), (21, 23, .6), (25, 25, -.7), (26, 30, .2), (31, 31, -3.2), (32, 32, -1.5), (34, 35, .6),
            (37, 39, .3), (40, 40, -1.7), (41, 44, .3), (45, 45, 1), (46, 46, -1.5), (47, 51, .1), (52, 52, -.8),
            (53, 53, -2), (54, 54, -1.2), (55, 55, -1.7), (56, 58, -.3), (59, 59, -3), (60, 63, .3), (65, 66, -.8),
            (67, 67, -1), (68, 68, -1.8), (69, 69, -.7), (70, 76, .3), (77, 77, .9), (78, 78, -.8), (79, 79, -2.2),
            (80, 83, .2), (84, 84, -.7), (85, 85, .3), (86, 86, 1), (87, 87, -.6), (88, 88, -2), (89, 89, 1.1),
            (90, 95, -.8), (96, 97, 1), (98, 98, -.6), (99, 103, .2), (104, 112, -.5), (113, 114, 1), (116, 122, -.6),
            (123, 124, -.8), (125, 127, -1.5), (128, 130, .6), (131, 131, -.3), (132, 132, -3), (133, 134, .6),
            (135, 140, -.7), (141, 141, .7), (144, 146, -.6), (147, 147, -1.8), (148, 149, -.6), (151, 152, -2.2),
            (153, 160, .4), (161, 161, -1.2), (163, 163, -3), (164, 175, -.2), (176, 180, .4), (181, 181, .5),
            (184, 185, .2), (186, 186, -.8), (188, 188, -2), (189, 192, .6), (194, 196, -1.5), (197, 197, .8),
            (198, 199, .3), (200, 200, -3), (201, 203, -.7), (204, 204, -1.8), (205, 206, -.6), (207, 210, .3),
            (211, 216, -.3), (217, 218, -1), (220, 221, -.5), (223, 225, .3), (226, 226, -2), (227, 227, -.8), (229, 229, -1),
            (230, 233, .7), (234, 234, 1), (235, 235, -.7), (236, 236, .8), (237, 237, -.5), (240, 243, .9), (244, 246, -.3),
            (247, 247, -2), (248, 250, .5), (251, 253, .4), (255, 258, .7), (259, 261, .4), (262, 264, .5), (265, 265, -1),
            (266, 266, -1.5), (267, 268, .4), (269, 269, -.5), (270, 270, 1), (271, 273, .3), (274, 276, -.5), (277, 277, .9)]
sia_col16 = [(0, 0, .2), (1, 1, -2.2), (2, 6, -.3), (7, 10, .2), (11, 11, -.6), (12, 16, .5), (17, 19, -.8), (20, 23, 1.2),
             (25, 26, .8), (27, 28, .5), (29, 29, 1.6), (30, 30, -.7), (32, 36, .4), (37, 37, -1.1), (38, 39, .4),
             (40, 42, -.5), (43, 44, 1.1), (45, 47, .6), (48, 48, .2), (49, 49, -.9), (50, 52, .2), (54, 54, -2.2),
             (55, 55, -.2), (56, 63, -.8), (65, 66, .4), (67, 69, -1.5), (70, 71, 1), (72, 74, -.3), (75, 80, .3),
             (81, 83, -.7), (84, 84, .7), (85, 92, .2), (93, 95, -.4), (96, 96, 1), (97, 100, .4), (101, 101, -1.3),
             (102, 102, .3), (103, 105, -.5), (106, 106, -1.6), (107, 108, .4), (109, 109, -2), (110, 114, .5),
             (116, 116, .2), (117, 117, -.5), (118, 118, -1.5), (119, 119, .6), (120, 120, -.5), (121, 122, -.9),
             (124, 125, .5), (126, 127, 1), (128, 131, -.4), (132, 133, -1.8), (134, 134, .3), (135, 135, 1),
             (136, 143, .3), (144, 144, -2), (146, 148, .6), (151, 160, -.7), (163, 164, .3), (165, 165, -.5),
             (168, 171, .7), (172, 175, .4), (176, 176, -1.8), (177, 177, -.5), (179, 181, .6), (182, 184, .3),
             (185, 186, -.7), (188, 188, .8), (189, 190, -.8), (191, 192, -.3), (194, 199, -.3), (200, 200, -1.8),
             (201, 204, .6), (205, 205, -.9), (207, 210, -1.2), (212, 214, .6), (215, 215, -.5), (216, 216, -.7),
             (217, 218, .3), (220, 221, .2), (223, 223, -1.7), (224, 227, .3), (228, 228, 1), (229, 229, .5),
             (230, 232, .3), (233, 233, -2), (234, 234, -1), (236, 236, .2), (238, 238, .9), (241, 244, -.7),
             (245, 245, -2.5), (246, 253, .3), (254, 258, -.4), (259, 261, .7), (262, 265, -.5), (266, 267, .3),
             (268, 268, -3), (271, 272, 1), (273, 276, .3), (277, 277, .8)]

n_clusters = [43, 30, 42]
titles = ['TriDeNT', 'Siamese\n(Unprivileged)', 'Siamese\n(Privileged)']
x_ticks = [[0, 10, 20, 30, 40], [0, 10, 20], [0, 10, 20, 30, 40]]
cbar_ticks = [-3, -2, -1, 0, 1, 2, 3]


def build(n_cols, cell_dicts, runs):
    m = np.full((len(pathways), n_cols), np.nan)
    for cells in cell_dicts:
        for r, row in cells.items():
            for c, v in row.items():
                m[r, c] = v
    for c, col_runs in runs.items():
        for first, last, v in col_runs:
            m[first:last + 1, c] = v
    return m


matrices = [
    build(43, [tri_left, tri_right], {10: tri_col10, 29: tri_col29}),
    build(30, [mid_cells], {4: mid_col4}),
    build(42, [sia_cells], {0: sia_col0, 2: sia_col2, 16: sia_col16}),
]

W, H = 971, 1452
fig = plt.figure(figsize=(W / 100, H / 100), dpi=100)
boxes = [(214, 421), (459, 603), (641, 845)]
top, bottom = 52, 1400
cmap = plt.get_cmap('viridis')
grey = '#555555'

for i in range(3):
    x0, x1 = boxes[i]
    ax = fig.add_axes([x0 / W, 1 - bottom / H, (x1 - x0) / W, (bottom - top) / H])
    ax.set_facecolor('black')
    im = ax.imshow(matrices[i], aspect='auto', cmap=cmap, vmin=-3.26, vmax=3.11, interpolation='nearest')
    ax.set_title(titles[i], fontsize=14.5, color='#333333', pad=1, linespacing=1.13)
    ax.set_xticks(x_ticks[i])
    ax.tick_params(axis='x', labelsize=9.5, labelcolor=grey, color='#aaaaaa', length=2.5, width=.6, pad=3.5)
    if i == 0:
        ax.set_yticks(np.arange(len(pathways)))
        ax.set_yticklabels(pathways, fontsize=4.5, color=grey)
        ax.tick_params(axis='y', color='#aaaaaa', length=2, width=.4, pad=1.2)
    else:
        ax.set_yticks([])
    for s in ax.spines.values():
        s.set_color('#aaaaaa')
        s.set_linewidth(.8)

cax = fig.add_axes([881 / W, 1 - 1047 / H, 31 / W, 643 / H])
cb = fig.colorbar(im, cax=cax)
cb.set_ticks(cbar_ticks)
cb.ax.tick_params(labelsize=9.5, labelcolor=grey, color='#aaaaaa', length=2.5, width=.6, pad=3.5)
cb.outline.set_edgecolor('#aaaaaa')
cb.outline.set_linewidth(.8)

fig.text(20 / W, 1 - 733 / H, 'Pathway', rotation=90, ha='center', va='center', fontsize=14.5, color='#333333')
fig.text(551 / W, 1 - 1440 / H, 'Cluster ID', ha='center', va='center', fontsize=14.5, color='#333333')
fig.text(957 / W, 1 - 726 / H, 'log10 Enrichment Score', rotation=270, ha='center', va='center', fontsize=14.5, color='#333333')

fig.savefig('out.png', dpi=100)
